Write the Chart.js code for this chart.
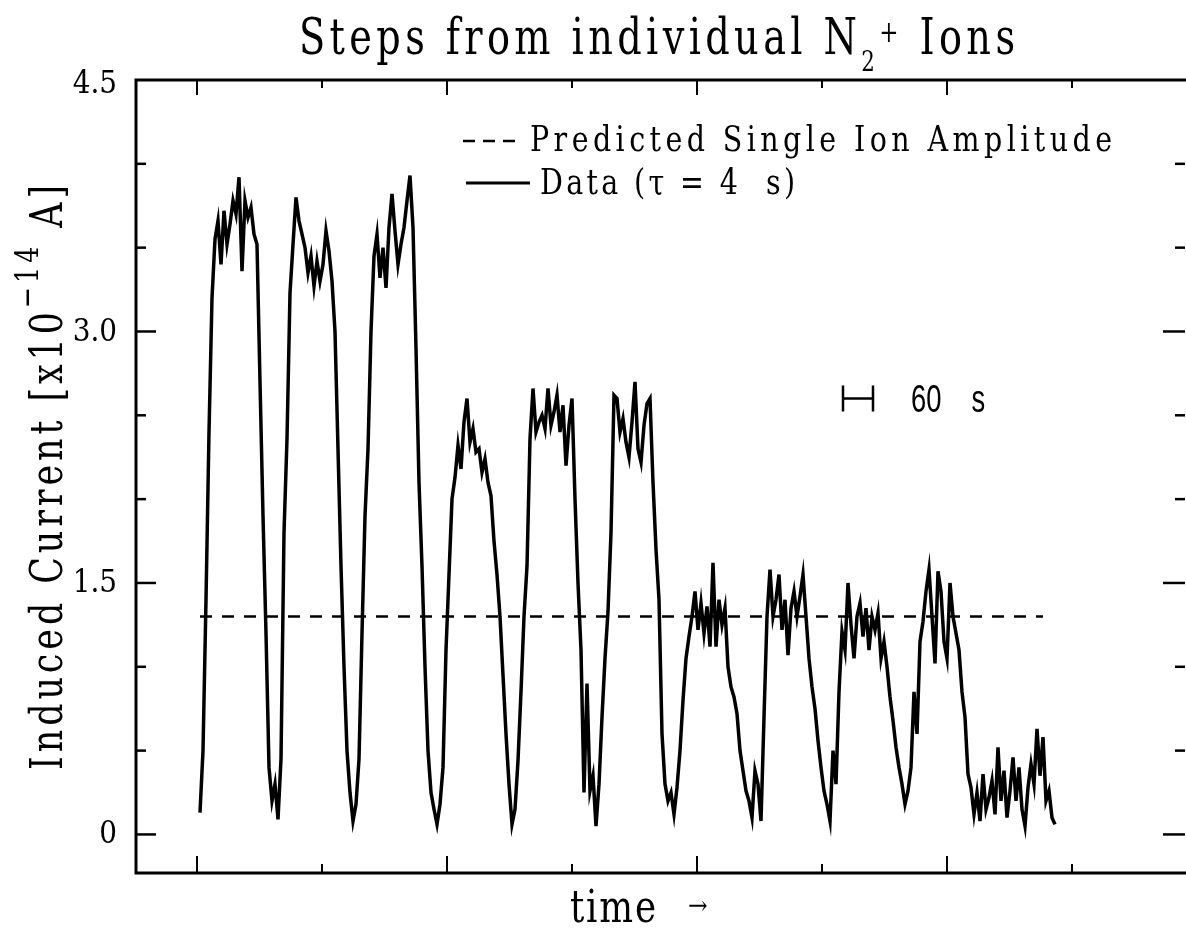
<!DOCTYPE html>
<html>
<head>
<meta charset="utf-8">
<title>Steps from individual N2+ Ions</title>
<script src="https://cdn.jsdelivr.net/npm/chart.js@4.4.1/dist/chart.umd.min.js"></script>
<style>
  html, body { margin: 0; padding: 0; background: #fff; }
  #wrap { width: 1186px; height: 938px; }
</style>
</head>
<body>
<div id="wrap"><canvas id="ionChart" width="1186" height="938"></canvas></div>
<script>
// Chart data
// induced current [x1e-14 A], one reading every SAMPLE_STEP seconds
const SAMPLE_START = 6;
const SAMPLE_STEP = 6;
const inducedCurrent = [
    0.13, 0.50, 1.40, 2.40, 3.20, 3.55, 3.66, 3.40, 3.72, 3.52,
    3.64, 3.78, 3.70, 3.92, 3.36, 3.78, 3.68, 3.74, 3.58, 3.52,
    2.70, 1.90, 1.20, 0.40, 0.20, 0.30, 0.09, 0.45, 1.80, 2.36,
    3.23, 3.52, 3.80, 3.66, 3.58, 3.50, 3.35, 3.45, 3.27, 3.42,
    3.30, 3.40, 3.60, 3.48, 3.30, 3.00, 2.30, 1.60, 1.00, 0.50,
    0.25, 0.08, 0.18, 0.45, 1.20, 1.90, 2.30, 3.00, 3.45, 3.58,
    3.32, 3.50, 3.26, 3.62, 3.82, 3.60, 3.40, 3.52, 3.62, 3.78,
    3.93, 3.62, 2.90, 2.10, 1.60, 1.00, 0.50, 0.25, 0.15, 0.06,
    0.18, 0.40, 1.10, 1.55, 2.00, 2.13, 2.32, 2.18, 2.46, 2.60,
    2.34, 2.42, 2.28, 2.30, 2.16, 2.24, 2.10, 2.02, 1.75, 1.55,
    1.30, 0.95, 0.60, 0.30, 0.06, 0.15, 0.44, 0.85, 1.30, 1.60,
    2.36, 2.66, 2.40, 2.46, 2.50, 2.42, 2.66, 2.44, 2.52, 2.62,
    2.40, 2.56, 2.20, 2.44, 2.60, 2.00, 1.50, 1.10, 0.25, 0.90,
    0.26, 0.35, 0.05, 0.30, 0.70, 1.05, 1.33, 1.80, 2.62, 2.60,
    2.40, 2.48, 2.34, 2.25, 2.46, 2.70, 2.30, 2.22, 2.44, 2.57,
    2.60, 2.10, 1.70, 1.40, 0.60, 0.30, 0.20, 0.25, 0.12, 0.28,
    0.50, 0.80, 1.05, 1.18, 1.30, 1.45, 1.22, 1.38, 1.20, 1.36,
    1.12, 1.62, 1.12, 1.40, 1.25, 1.35, 1.00, 0.88, 0.82, 0.72,
    0.50, 0.38, 0.26, 0.20, 0.10, 0.38, 0.30, 0.08, 0.70, 1.30,
    1.58, 1.30, 1.40, 1.55, 1.22, 1.40, 1.07, 1.35, 1.45, 1.30,
    1.42, 1.55, 1.30, 1.05, 0.88, 0.75, 0.56, 0.40, 0.26, 0.18,
    0.08, 0.50, 0.30, 0.85, 1.21, 1.10, 1.50, 1.25, 1.05, 1.30,
    1.38, 1.18, 1.35, 1.10, 1.30, 1.22, 1.32, 1.05, 1.15, 1.00,
    0.82, 0.68, 0.52, 0.40, 0.30, 0.18, 0.26, 0.40, 0.85, 0.60,
    1.15, 1.27, 1.45, 1.58, 1.30, 1.02, 1.57, 1.45, 1.15, 1.05,
    1.50, 1.30, 1.20, 1.10, 0.85, 0.70, 0.36, 0.28, 0.12, 0.25,
    0.08, 0.36, 0.15, 0.22, 0.32, 0.12, 0.52, 0.20, 0.38, 0.10,
    0.26, 0.46, 0.20, 0.40, 0.15, 0.05, 0.28, 0.42, 0.30, 0.63,
    0.35, 0.58, 0.20, 0.26, 0.10, 0.06
];

// predicted single ion amplitude (dashed line)
const predictedLevel = 1.3;
const predictedSpan = [6, 1692];

// axes
const timeRange = [-122, 1976];
const currentRange = [-0.23, 4.5];
const timeMajorTicks = [0, 500, 1000, 1500];
const timeMinorTicks = [250, 750, 1250, 1750];
const currentMajorTicks = [0, 1.5, 3.0];
const currentMinorTicks = [0.5, 1.0, 2.0, 2.5, 3.5, 4.0];
const currentTickLabels = ['0', '1.5', '3.0', '4.5'];
const currentLabelValues = [0, 1.5, 3.0, 4.5];

// 60 s scale bar
const scaleBarTimes = [1292, 1352];
const scaleBarLevel = 2.6;

const SERIF = '"DejaVu Serif Condensed", "DejaVu Serif", serif';
const SANS = '"Liberation Sans", Arial, sans-serif';

// text helper: spread segments over a given width, optional horizontal squeeze
function drawRich(ctx, segs, x, y, width, squeeze) {
    const sx = squeeze || 1;
    let natural = 0, count = 0;
    segs.forEach(s => {
        ctx.font = s.font;
        ctx.letterSpacing = '0px';
        s.w = ctx.measureText(s.text).width;
        natural += s.w;
        count += [...s.text].length;
    });
    const sp = count > 1 ? (width / sx - natural) / (count - 1) : 0;
    ctx.save();
    ctx.translate(x, y);
    ctx.scale(sx, 1);
    let cx = 0;
    segs.forEach(s => {
        ctx.font = s.font;
        ctx.letterSpacing = sp + 'px';
        ctx.fillText(s.text, cx, s.dy || 0);
        cx += s.w + sp * [...s.text].length;
    });
    ctx.restore();
    ctx.letterSpacing = '0px';
}

const paperPlugin = {
    id: 'paperPlugin',
    afterDraw(chart) {
        const ctx = chart.ctx;
        const area = chart.chartArea;
        const xs = chart.scales.x;
        const ys = chart.scales.y;

        ctx.save();
        ctx.strokeStyle = '#000';
        ctx.fillStyle = '#000';
        ctx.lineCap = 'butt';

        // frame (right side is cut off in the scan)
        ctx.lineWidth = 3;
        ctx.beginPath();
        ctx.moveTo(area.right + 2, area.top);
        ctx.lineTo(area.left, area.top);
        ctx.lineTo(area.left, area.bottom);
        ctx.lineTo(area.right + 2, area.bottom);
        ctx.stroke();

        // time ticks, bottom and top
        ctx.lineWidth = 2;
        const tick = (px, y0, y1) => { ctx.beginPath(); ctx.moveTo(px, y0); ctx.lineTo(px, y1); ctx.stroke(); };
        timeMajorTicks.forEach(t => {
            const px = xs.getPixelForValue(t);
            tick(px, area.bottom, area.bottom - 17);
            tick(px, area.top, area.top + 15);
        });
        timeMinorTicks.forEach(t => {
            const px = xs.getPixelForValue(t);
            tick(px, area.bottom, area.bottom - 9);
            tick(px, area.top, area.top + 8);
        });

        // current ticks, left and right
        ctx.lineWidth = 2.5;
        const htick = (py, x0, x1) => { ctx.beginPath(); ctx.moveTo(x0, py); ctx.lineTo(x1, py); ctx.stroke(); };
        currentMajorTicks.forEach(v => {
            const py = ys.getPixelForValue(v);
            htick(py, area.left, area.left + 20);
            htick(py, area.right, area.right - 22);
        });
        currentMinorTicks.forEach(v => {
            const py = ys.getPixelForValue(v);
            htick(py, area.left, area.left + 10);
            htick(py, area.right, area.right - 10);
        });

        // tick labels
        ctx.font = '31px ' + SERIF;
        ctx.textAlign = 'right';
        ctx.textBaseline = 'middle';
        currentLabelValues.forEach((v, i) => {
            const py = ys.getPixelForValue(v);
            ctx.fillText(currentTickLabels[i], area.left - 19, py + (i === 3 ? 5 : 1));
        });

        // title
        ctx.textAlign = 'left';
        ctx.textBaseline = 'alphabetic';
        drawRich(ctx, [
            { text: 'Steps from individual N', font: '50px ' + SERIF },
            { text: '2', font: '28px ' + SERIF, dy: 17 },
            { text: '+', font: '30px ' + SERIF, dy: -12 },
            { text: ' Ions', font: '50px ' + SERIF }
        ], 299, 54, 716, 0.85);

        // y axis title, rotated
        ctx.save();
        ctx.translate(62, 770);
        ctx.rotate(-Math.PI / 2);
        drawRich(ctx, [
            { text: 'Induced Current [x10', font: '44px ' + SERIF },
            { text: '\u221214', font: '32px ' + SERIF, dy: -24 },
            { text: ' A]', font: '44px ' + SERIF }
        ], 0, 0, 585, 0.88);
        ctx.restore();

        // x axis title
        drawRich(ctx, [{ text: 'time', font: '44px ' + SERIF }], 570, 922, 86, 0.9);
        ctx.font = '26px ' + SERIF;
        ctx.fillText('\u2192', 688, 914);

        // legend
        const legendFont = '36px ' + SERIF;
        ctx.lineWidth = 2.5;
        ctx.setLineDash([12, 8]);
        ctx.beginPath();
        ctx.moveTo(463, 141);
        ctx.lineTo(515, 141);
        ctx.stroke();
        ctx.setLineDash([]);
        drawRich(ctx, [{ text: 'Predicted Single Ion Amplitude', font: legendFont }], 530, 151, 582, 0.88);
        ctx.lineWidth = 3;
        ctx.beginPath();
        ctx.moveTo(466, 183);
        ctx.lineTo(530, 183);
        ctx.stroke();
        drawRich(ctx, [{ text: 'Data (\u03c4 = 4  s)', font: legendFont }], 540, 194, 255, 0.88);

        // 60 s scale bar
        const bx0 = xs.getPixelForValue(scaleBarTimes[0]);
        const bx1 = xs.getPixelForValue(scaleBarTimes[1]);
        const by = ys.getPixelForValue(scaleBarLevel);
        ctx.lineWidth = 2.5;
        ctx.beginPath();
        ctx.moveTo(bx0, by - 13); ctx.lineTo(bx0, by + 13);
        ctx.moveTo(bx1, by - 13); ctx.lineTo(bx1, by + 13);
        ctx.moveTo(bx0, by); ctx.lineTo(bx1, by);
        ctx.stroke();
        ctx.save();
        ctx.translate(bx1 + 38, by + 13);
        ctx.scale(0.72, 1);
        ctx.font = '38px ' + SANS;
        ctx.fillText('60', 0, 0);
        ctx.fillText('s', 84, 0);
        ctx.restore();

        ctx.restore();
    }
};

const traceData = inducedCurrent.map((v, i) => ({ x: SAMPLE_START + i * SAMPLE_STEP, y: v }));

new Chart(document.getElementById('ionChart').getContext('2d'), {
    type: 'line',
    data: {
        datasets: [{
            label: 'Data (\u03c4 = 4 s)',
            data: traceData,
            borderColor: '#000',
            borderWidth: 3.5,
            borderJoinStyle: 'miter',
            pointRadius: 0,
            tension: 0,
            fill: false
        }, {
            label: 'Predicted Single Ion Amplitude',
            data: [{ x: predictedSpan[0], y: predictedLevel }, { x: predictedSpan[1], y: predictedLevel }],
            borderColor: '#000',
            borderWidth: 2.5,
            borderDash: [12, 10],
            pointRadius: 0,
            fill: false
        }]
    },
    options: {
        responsive: false,
        animation: false,
        events: [],
        layout: { padding: { left: 136, right: 1, top: 80, bottom: 65 } },
        plugins: {
            legend: { display: false },
            title: { display: false },
            tooltip: { enabled: false }
        },
        scales: {
            x: { type: 'linear', min: timeRange[0], max: timeRange[1], display: false },
            y: { type: 'linear', min: currentRange[0], max: currentRange[1], display: false }
        }
    },
    plugins: [paperPlugin]
});
</script>
</body>
</html>
